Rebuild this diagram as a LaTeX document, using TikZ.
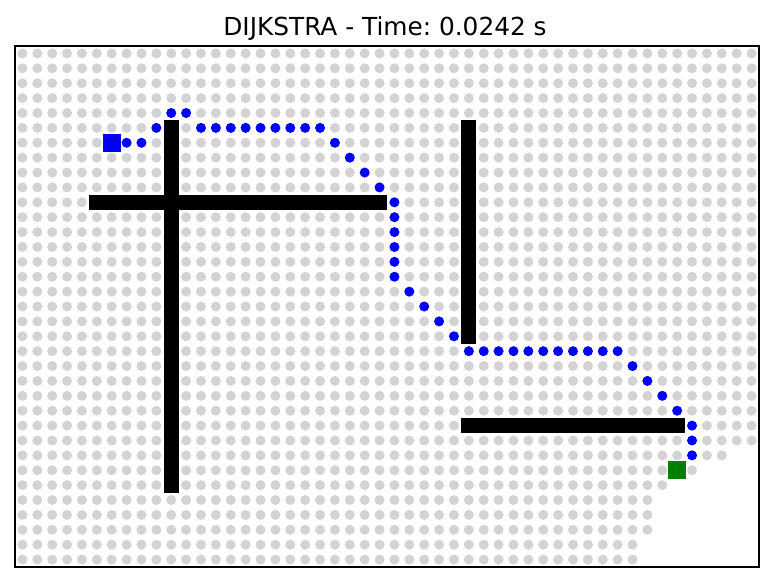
\documentclass[tikz,border=0pt]{standalone}
\usepackage{fontspec}
\setmainfont{DejaVu Sans}
\begin{document}
\begin{tikzpicture}[x=0.75pt,y=-0.75pt,
  graydot/.style={fill={rgb,255:red,211;green,211;blue,211}},
  pathdot/.style={fill={rgb,255:red,0;green,0;blue,255}},
  wall/.style={fill=black},
  startsq/.style={draw=none,fill={rgb,255:red,0;green,0;blue,255},minimum size=13.5pt,inner sep=0pt,outer sep=0pt},
  goalsq/.style={draw=none,fill={rgb,255:red,0;green,128;blue,0},minimum size=13.5pt,inner sep=0pt,outer sep=0pt},
  frame/.style={draw=black,line width=1pt},
  titletext/.style={font=\fontsize{18.6}{22}\selectfont\frenchspacing,anchor=base,inner sep=0pt}]
\useasboundingbox (0,0) rectangle (774,582);
\node[titletext] (title) at (385,35) {DIJKSTRA - Time: 0.0242 s};
\begin{scope}[shift={(15,46)},x=11.16pt,y=-11.1645pt]
  % visited cells
  \foreach \r in {0,...,34}{
    \pgfmathtruncatemacro\m{\r<27 ? 49 : (\r==27 ? 47 : (\r==28 ? 45 : (\r==29 ? 43 : (\r<33 ? 42 : 41))))}
    \foreach \c in {0,...,\m}{
      \fill[graydot] (\c+0.5,\r+0.5) circle[radius=3.75pt];
    }
  }
  % obstacles
  \fill[wall] (10,5) rectangle (11,30);
  \fill[wall] (5,10) rectangle (25,11);
  \fill[wall] (30,5) rectangle (31,20);
  \fill[wall] (30,25) rectangle (45,26);
  % path
  \foreach \c/\r in {7/6,8/6,9/5,10/4,11/4,12/5,13/5,14/5,15/5,16/5,17/5,18/5,19/5,20/5,
    21/6,22/7,23/8,24/9,25/10,25/11,25/12,25/13,25/14,25/15,26/16,27/17,28/18,29/19,
    30/20,31/20,32/20,33/20,34/20,35/20,36/20,37/20,38/20,39/20,40/20,
    41/21,42/22,43/23,44/24,45/25,45/26,45/27}{
    \fill[pathdot] (\c+0.5,\r+0.5) circle[radius=3.75pt];
  }
  \node[startsq] (start) at (6.5,6.5) {};
  \node[goalsq] (goal) at (44.5,28.5) {};
  \draw[frame] (0,0) rectangle (50,35);
\end{scope}
\end{tikzpicture}
\end{document}
